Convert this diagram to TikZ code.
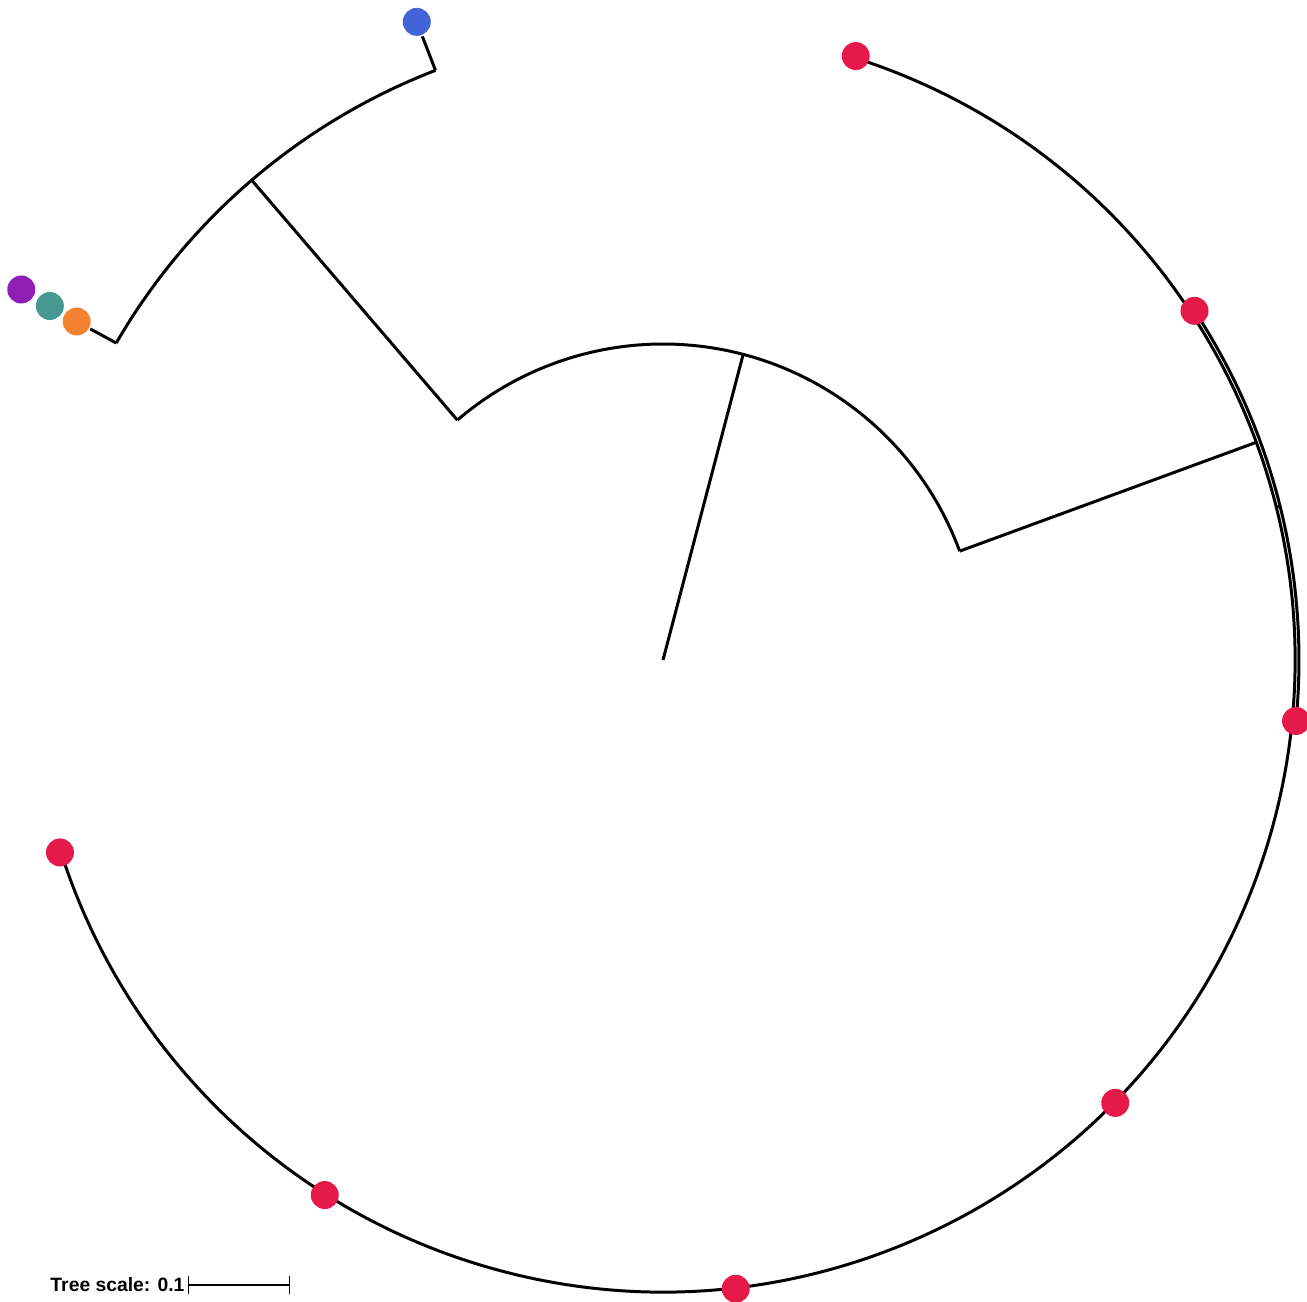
\documentclass[tikz,border=0pt]{standalone}
\usepackage{fontspec}
\setmainfont{Liberation Sans}
\definecolor{leafred}{HTML}{E6194B}
\definecolor{leafblue}{HTML}{4363D8}
\definecolor{leafpurple}{HTML}{911EB4}
\definecolor{leafteal}{HTML}{469990}
\definecolor{leaforange}{HTML}{F58231}

\begin{document}
\begin{tikzpicture}[line width=0.85pt, leaf/.style={circle, fill=#1, inner sep=0pt, minimum size=0.28cm}]
\useasboundingbox (-6.63,-6.42) rectangle (6.44,6.60);
% Root and first split
\coordinate (root) at (0,0);
\coordinate (top) at (75.3:3.16);
\coordinate (left) at (130.6:3.16);
\coordinate (right) at (20.15:3.16);
\draw (root) -- (top);
\draw (left) arc[start angle=130.6, end angle=20.15, radius=3.16];

% Left clade
\coordinate (left2) at (130.6:6.32);
\coordinate (lefta) at (149.9:6.32);
\coordinate (leftb) at (111.1:6.32);
\draw (left) -- (left2);
\draw (lefta) arc[start angle=149.9, end angle=111.1, radius=6.32];
\node[leaf=leafblue] (blue) at (111.1:6.84) {};
\draw (leftb) -- (blue);
\node[leaf=leaforange] (orange) at (150:6.77) {};
\node[leaf=leafteal] (teal) at (150:7.08) {};
\node[leaf=leafpurple] (purple) at (150:7.41) {};
\draw (lefta) -- (orange);

% Right clade
\coordinate (right2) at (20.15:6.31);
\coordinate (redtop) at (72.3:6.32);
\coordinate (inner) at (14:6.32);
\coordinate (outer) at (14:6.36);
\coordinate (outtop) at (33.3:6.36);
\draw (right) -- (right2);
\draw (redtop) arc[start angle=72.3, end angle=-162.3, radius=6.32];
\draw (inner) -- (outer);
\draw (outtop) arc[start angle=33.3, end angle=-5.5, radius=6.36];
\foreach \a/\r [count=\i] in {72.3/6.34, 33.3/6.36, -5.5/6.36, -44.4/6.33, -83.4/6.33, -122.3/6.33, -162.3/6.33}
  \node[leaf=leafred] (red\i) at (\a:\r) {};

% Scale
\node[anchor=west, font=\fontsize{5.5}{6.6}\selectfont\bfseries, inner sep=0pt] (scalelbl) at (-6.14,-6.25) {Tree scale: 0.1};
\coordinate (barL) at (-4.75,-6.25);
\coordinate (barR) at (-3.73,-6.25);
\draw[line width=0.3pt, |-|] (barL) -- (barR);
\end{tikzpicture}
\end{document}
